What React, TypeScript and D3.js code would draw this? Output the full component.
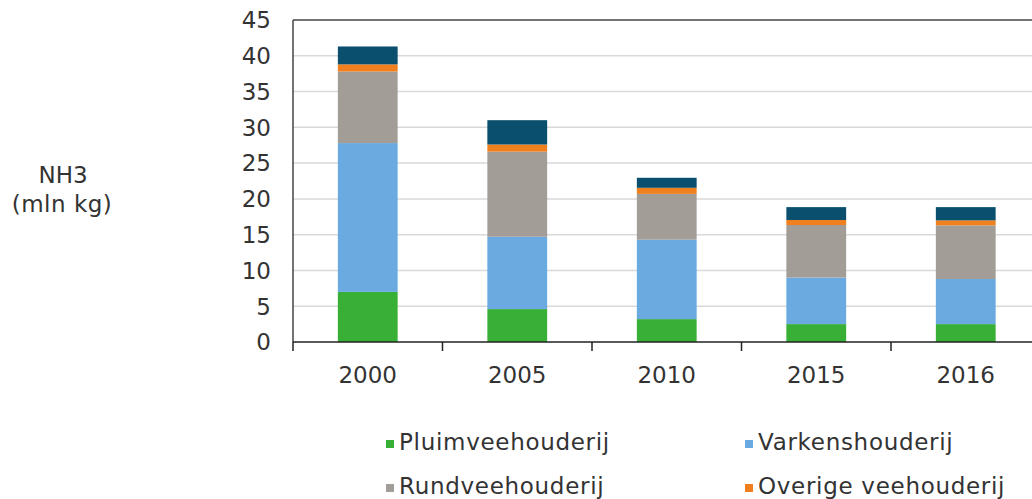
import React from "react";
import * as d3 from "d3";

const years = ["2000", "2005", "2010", "2015", "2016"];
const pluimvee = [7.0, 4.6, 3.2, 2.5, 2.5];
const varkens = [20.8, 10.1, 11.1, 6.5, 6.3];
const rundvee = [10.0, 11.9, 6.4, 7.35, 7.5];
const overige = [1.0, 1.0, 0.85, 0.7, 0.7];
const overigeBronnen = [2.5, 3.4, 1.4, 1.8, 1.85];
const yTicks = [0, 5, 10, 15, 20, 25, 30, 35, 40, 45];

const seriesKeys = ["pluimvee", "varkens", "rundvee", "overige", "bronnen"];
const seriesColors = ["#38b035", "#6aaae0", "#a39d98", "#f07f1e", "#0a4f6e"];
const legendItems = [
  { label: "Pluimveehouderij", color: "#38b035" },
  { label: "Varkenshouderij", color: "#6aaae0" },
  { label: "Rundveehouderij", color: "#a39d98" },
  { label: "Overige veehouderij", color: "#f07f1e" },
];

const font = "'DejaVu Sans', Verdana, sans-serif";
const textColor = "#333";

const App = () => {
  const width = 1032;
  const height = 499;
  const left = 293;
  const right = 1040.5;
  const top = 20;
  const bottom = 342;

  const rows = years.map((year, i) => ({
    year,
    pluimvee: pluimvee[i],
    varkens: varkens[i],
    rundvee: rundvee[i],
    overige: overige[i],
    bronnen: overigeBronnen[i],
  }));

  const x = d3
    .scaleBand()
    .domain(years)
    .range([left, right])
    .paddingInner(0.6)
    .paddingOuter(0.3);
  const y = d3.scaleLinear().domain([0, 45]).range([bottom, top]);
  const step = x.step();

  const stacked = d3.stack().keys(seriesKeys)(rows as any);

  return (
    <svg
      width={width}
      height={height}
      style={{ position: "absolute", left: 0, top: 0, overflow: "hidden" }}
    >
      {/* gridlines */}
      {yTicks.slice(1, -1).map((t) => (
        <line
          key={t}
          x1={left}
          x2={right}
          y1={y(t)}
          y2={y(t)}
          stroke="#d9d9d9"
          strokeWidth={1.5}
        />
      ))}

      {/* bars */}
      {stacked.map((s, si) => (
        <g key={s.key} fill={seriesColors[si]}>
          {s.map((d, i) => (
            <rect
              key={i}
              x={x(years[i])}
              width={x.bandwidth()}
              y={y(d[1])}
              height={y(d[0]) - y(d[1])}
            />
          ))}
        </g>
      ))}

      {/* frame */}
      <line x1={left} x2={right} y1={top} y2={top} stroke="#444" strokeWidth={1.5} />
      <line x1={left} x2={left} y1={top} y2={bottom} stroke="#444" strokeWidth={1.5} />
      <line x1={left} x2={right} y1={bottom} y2={bottom} stroke="#222" strokeWidth={1.5} />

      {/* x ticks */}
      {d3.range(years.length + 1).map((i) => (
        <line
          key={i}
          x1={left + i * step}
          x2={left + i * step}
          y1={bottom}
          y2={bottom + 9}
          stroke="#222"
          strokeWidth={1.5}
        />
      ))}

      {/* y labels */}
      {yTicks.map((t) => (
        <text
          key={t}
          x={271}
          y={y(t)}
          dy="0.36em"
          textAnchor="end"
          fontFamily={font}
          fontSize={23}
          fill={textColor}
        >
          {t}
        </text>
      ))}

      {/* x labels */}
      {years.map((yr) => (
        <text
          key={yr}
          x={(x(yr) as number) + x.bandwidth() / 2}
          y={383}
          textAnchor="middle"
          fontFamily={font}
          fontSize={23}
          fill={textColor}
        >
          {yr}
        </text>
      ))}

      {/* axis title */}
      <text x={63} y={183} textAnchor="middle" fontFamily={font} fontSize={23} fill={textColor}>
        NH3
      </text>
      <text
        x={62}
        y={212}
        textAnchor="middle"
        fontFamily={font}
        fontSize={23}
        fill={textColor}
        letterSpacing={0.5}
      >
        (mln kg)
      </text>

      {/* legend */}
      {legendItems.map((item, i) => {
        const col = i % 2;
        const row = Math.floor(i / 2);
        const lx = col === 0 ? 386 : 745;
        const ly = 450 + row * 44;
        return (
          <g key={item.label}>
            <rect x={lx} y={ly - 10} width={8} height={8} fill={item.color} />
            <text
              x={lx + 13}
              y={ly}
              fontFamily={font}
              fontSize={23}
              fill={textColor}
              letterSpacing={0.7}
            >
              {item.label}
            </text>
          </g>
        );
      })}
    </svg>
  );
};

export default App;
